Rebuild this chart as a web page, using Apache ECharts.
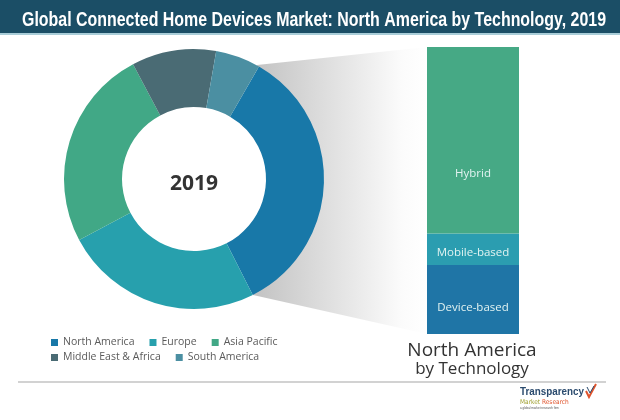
<!DOCTYPE html>
<html>
<head>
<meta charset="utf-8">
<script src="https://cdn.jsdelivr.net/npm/echarts@6/dist/echarts.min.js"></script>
<style>html,body{margin:0;padding:0;background:#fff;}#c{width:620px;height:420px;}</style>
</head>
<body>
<div id="c"></div>
<script>
var regions = ['North America', 'Europe', 'Asia Pacific', 'Middle East & Africa', 'South America'];
var regionShares = [34.2, 24.7, 25.0, 10.5, 5.6];
var regionColors = ['#1878a8', '#27a0ad', '#41a886', '#4a6b74', '#4b8fa2'];

var technologies = ['Device-based', 'Mobile-based', 'Hybrid'];
var techShares = [24, 11, 65];
var techColors = ['#1f75a6', '#2b9db0', '#46a985'];

var titleText = 'Global Connected Home Devices Market: North America by Technology, 2019';
var titleFont = 'bold 21px "Liberation Sans", Arial, sans-serif';

function textWidth(txt, font) {
  var cv = document.createElement('canvas').getContext('2d');
  cv.font = font;
  return cv.measureText(txt).width;
}
var titleScale = 584 / textWidth(titleText, titleFont);
var logoFont = 'bold 10px "Liberation Sans", Arial, sans-serif';
var logoScale = 64 / textWidth('Transparency', logoFont);

var chart = echarts.init(document.getElementById('c'));

var labelOffsets = [[0, 8], [0, 3], [0, 33]];
var barSeries = technologies.map(function (t, i) {
  return {
    name: t,
    type: 'bar',
    stack: 'tech',
    barWidth: '100%',
    data: [techShares[i]],
    itemStyle: { color: techColors[i] },
    label: {
      show: true,
      position: 'inside',
      offset: labelOffsets[i],
      formatter: t,
      color: '#e2f3f1',
      fontSize: 11.5,
      fontFamily: 'Open Sans, sans-serif'
    },
    silent: true
  };
});

var legendText = { color: '#5a5a5a', fontSize: 10.5, fontFamily: 'Open Sans, sans-serif' };

chart.setOption({
  animation: false,
  backgroundColor: '#ffffff',
  graphic: [
    { type: 'rect', shape: { x: 0, y: 0, width: 620, height: 33 }, style: { fill: '#1b4e66' }, z: 0 },
    { type: 'rect', shape: { x: 0, y: 33, width: 620, height: 2 }, style: { fill: '#a9cdd8' }, z: 0 },
    {
      type: 'text', x: 314, y: 20, scaleX: titleScale, z: 1,
      style: {
        text: titleText, fill: '#ffffff', align: 'center', verticalAlign: 'middle',
        font: titleFont
      }
    },
    {
      type: 'polygon', z: 0,
      shape: { points: [[257, 65], [427, 47], [427, 334], [253, 295], [278, 179]] },
      style: {
        fill: new echarts.graphic.LinearGradient(0, 0, 1, 0, [
          { offset: 0, color: '#c2c2c2' },
          { offset: 0.85, color: '#fbfbfb' },
          { offset: 1, color: '#ffffff' }
        ])
      }
    },
    {
      type: 'text', z: 5, x: 194, y: 184,
      style: {
        text: '2019', fill: '#333333', align: 'center', verticalAlign: 'middle',
        font: 'bold 21px "Open Sans", sans-serif'
      }
    },
    {
      type: 'text', z: 5, x: 472, y: 351,
      style: {
        text: 'North America', fill: '#333333', align: 'center', verticalAlign: 'middle',
        font: '19px "Open Sans", sans-serif'
      }
    },
    {
      type: 'text', z: 5, x: 472, y: 369,
      style: {
        text: 'by Technology', fill: '#333333', align: 'center', verticalAlign: 'middle',
        font: '17px "Open Sans", sans-serif'
      }
    },
    { type: 'rect', z: 0, shape: { x: 18, y: 381, width: 588, height: 2 }, style: { fill: '#d2d2d2' } },
    {
      type: 'text', z: 5, x: 520, y: 387, scaleX: logoScale,
      style: { text: 'Transparency', fill: '#2b4b6e', font: logoFont }
    },
    {
      type: 'text', z: 5, x: 520, y: 399,
      style: { text: 'Market', fill: '#a0a030', font: '6.5px "DejaVu Sans Condensed", sans-serif' }
    },
    {
      type: 'text', z: 5, x: 542, y: 399,
      style: { text: 'Research', fill: '#e0552e', font: '6.5px "DejaVu Sans Condensed", sans-serif' }
    },
    {
      type: 'text', z: 5, x: 520, y: 407,
      style: { text: 'a global market research firm', fill: '#555555', font: '3px sans-serif' }
    },
    {
      type: 'polyline', z: 5,
      shape: { points: [[586, 391], [589, 397], [596, 384]] },
      style: { stroke: '#e0552e', lineWidth: 2, fill: null }
    },
    {
      type: 'polyline', z: 5,
      shape: { points: [[587, 387], [590, 393], [594, 386]] },
      style: { stroke: '#2b4b6e', lineWidth: 1, fill: null }
    }
  ],
  legend: [
    {
      data: regions.slice(0, 3),
      left: 46, top: 332,
      orient: 'horizontal',
      icon: 'rect', itemWidth: 7, itemHeight: 7, itemGap: 15,
      selectedMode: false,
      textStyle: legendText
    },
    {
      data: regions.slice(3),
      left: 46, top: 347,
      orient: 'horizontal',
      icon: 'rect', itemWidth: 7, itemHeight: 7, itemGap: 15,
      selectedMode: false,
      textStyle: legendText
    }
  ],
  grid: { left: 427, top: 47, width: 92, height: 287 },
  xAxis: { type: 'category', data: ['North America'], show: false },
  yAxis: { type: 'value', min: 0, max: 100, show: false },
  series: [
    {
      type: 'pie',
      center: [194, 179],
      radius: [72, 130],
      startAngle: 60,
      clockwise: true,
      label: { show: false },
      labelLine: { show: false },
      silent: true,
      data: regions.map(function (r, i) {
        return { name: r, value: regionShares[i], itemStyle: { color: regionColors[i] } };
      })
    }
  ].concat(barSeries)
});
</script>
</body>
</html>
